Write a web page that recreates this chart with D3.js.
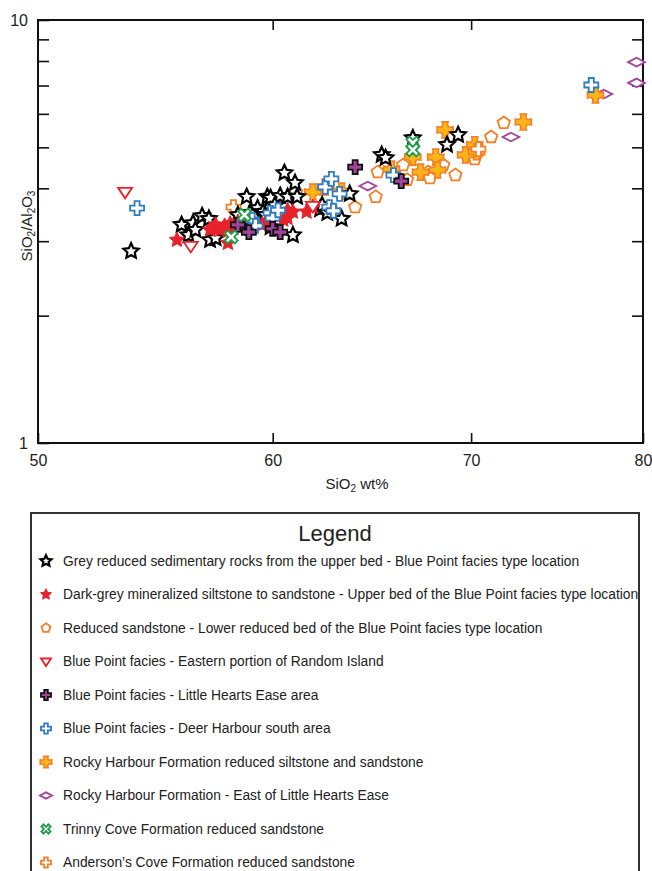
<!DOCTYPE html>
<html>
<head>
<meta charset="utf-8">
<script src="https://cdn.jsdelivr.net/npm/d3@7"></script>
<style>
  body { margin: 0; background: #fff; }
  svg { display: block; font-family: "Liberation Sans", Arial, sans-serif; }
  .axis path { display: none; }
  .axis line { stroke: #111; stroke-width: 1.6; }
</style>
</head>
<body>
<svg width="652" height="871"></svg>
<script>
// ---- data: [SiO2 wt%, SiO2/Al2O3] ----
var greyReduced = [
  [53.75, 2.84], [55.9, 3.28], [56.2, 3.10], [56.4, 3.31], [56.5, 3.19], [56.8, 3.44],
  [57.1, 3.39], [57.15, 3.02], [57.4, 3.05], [58.8, 3.82], [58.6, 3.31], [59.3, 3.59],
  [59.55, 3.52], [59.75, 3.82], [59.9, 3.80], [60.35, 3.84], [60.7, 3.82], [61.15, 3.82],
  [60.55, 4.35], [61.05, 4.12], [60.95, 3.10], [58.95, 3.50], [59.2, 3.40], [59.4, 3.33],
  [59.65, 3.46], [60.1, 3.65], [59.9, 3.24], [58.4, 3.46], [62.25, 3.57], [62.6, 3.50],
  [63.3, 3.39], [63.7, 3.88], [65.3, 4.80], [65.5, 4.72], [66.9, 5.26], [68.7, 5.07],
  [69.3, 5.35], [62.35, 3.65]
];
var darkGreyMineralized = [
  [55.7, 3.02], [57.95, 2.97], [57.3, 3.22], [57.4, 3.28], [57.6, 3.19], [57.8, 3.26],
  [58.05, 3.30], [58.2, 3.22], [58.4, 3.33], [57.95, 3.17], [57.15, 3.19], [59.5, 3.28],
  [60.5, 3.37], [60.7, 3.55], [60.7, 3.40], [60.95, 3.52], [61.6, 3.52], [61.9, 3.61],
  [59.65, 3.31], [60.0, 3.46]
];
var reducedSandstone = [
  [63.97, 3.61], [65.0, 3.82], [65.1, 4.37], [66.4, 4.54], [66.6, 4.19], [67.7, 4.37],
  [67.8, 4.23], [68.5, 4.54], [69.15, 4.30], [70.2, 4.69], [70.4, 4.90], [71.1, 5.29],
  [71.8, 5.71], [61.1, 3.92]
];
var bpEastern = [[53.5, 3.92], [56.3, 2.92], [61.9, 3.63]];
var bpLittleHearts = [[58.4, 3.28], [58.9, 3.15], [60.0, 3.21], [60.35, 3.15], [63.97, 4.49], [66.3, 4.16]];
var bpDeerHarbour = [
  [54.0, 3.59], [59.05, 3.37], [59.2, 3.26], [59.9, 3.50], [60.0, 3.40], [60.25, 3.55],
  [62.5, 4.03], [62.8, 4.21], [63.2, 3.88], [62.7, 3.61], [62.9, 3.54], [65.9, 4.30], [76.85, 7.02]
];
var rockySiltstone = [
  [61.9, 3.92], [62.5, 4.03], [63.3, 3.94], [65.8, 4.44], [66.9, 4.74], [67.3, 4.37],
  [68.1, 4.74], [68.2, 4.42], [68.6, 5.50], [69.7, 4.80], [70.2, 5.07], [70.3, 4.88],
  [72.9, 5.74], [77.1, 6.65]
];
var rockyEast = [[64.6, 4.05], [72.2, 5.29], [77.6, 6.68], [79.6, 7.95], [79.6, 7.10]];
var trinnyCove = [[58.1, 3.07], [58.7, 3.46], [66.9, 5.12], [66.9, 4.93]];
var andersonsCove = [[58.2, 3.61], [70.4, 4.95]];

var xTicks = [50, 60, 70, 80];
var yTicks = [1, 2, 3, 4, 5, 6, 7, 8, 9, 10];

// ---- custom marker shapes (size = radius in px) ----
function poly(ctx, pts) {
  ctx.moveTo(pts[0][0], pts[0][1]);
  for (var i = 1; i < pts.length; i++) ctx.lineTo(pts[i][0], pts[i][1]);
  ctx.closePath();
}
var star = { draw: function(ctx, r) {
  var pts = [];
  for (var i = 0; i < 10; i++) {
    var a = -Math.PI / 2 + i * Math.PI / 5, rr = i % 2 ? r * 0.48 : r;
    pts.push([rr * Math.cos(a), rr * Math.sin(a)]);
  }
  poly(ctx, pts);
}};
var pentagon = { draw: function(ctx, r) {
  var pts = [];
  for (var i = 0; i < 5; i++) {
    var a = -Math.PI / 2 + i * 2 * Math.PI / 5;
    pts.push([r * Math.cos(a), r * Math.sin(a)]);
  }
  poly(ctx, pts);
}};
var triDown = { draw: function(ctx, r) {
  poly(ctx, [[-r, -r * 0.6], [r, -r * 0.6], [0, r * 0.9]]);
}};
var cross = { draw: function(ctx, r) {
  var a = r * 0.36;
  poly(ctx, [[-a, -r], [a, -r], [a, -a], [r, -a], [r, a], [a, a], [a, r], [-a, r], [-a, a], [-r, a], [-r, -a], [-a, -a]]);
}};
var sparkle = { draw: function(ctx, r) {
  var a = r * 0.38, c = r * 0.12;
  ctx.moveTo(-a, -r); ctx.lineTo(a, -r);
  ctx.quadraticCurveTo(c, -c, r, -a); ctx.lineTo(r, a);
  ctx.quadraticCurveTo(c, c, a, r); ctx.lineTo(-a, r);
  ctx.quadraticCurveTo(-c, c, -r, a); ctx.lineTo(-r, -a);
  ctx.quadraticCurveTo(-c, -c, -a, -r);
  ctx.closePath();
}};
var wideDiamond = { draw: function(ctx, r) {
  poly(ctx, [[-r * 1.2, 0], [0, -r * 0.62], [r * 1.2, 0], [0, r * 0.62]]);
}};
var xMark = { draw: function(ctx, r) {
  var a = r * 0.3, s = Math.SQRT1_2;
  var base = [[-a, -r], [a, -r], [a, -a], [r, -a], [r, a], [a, a], [a, r], [-a, r], [-a, a], [-r, a], [-r, -a], [-a, -a]];
  poly(ctx, base.map(function(p) { return [(p[0] - p[1]) * s, (p[0] + p[1]) * s]; }));
}};

var series = [
  { name: "Rocky Harbour Formation - East of Little Hearts Ease", data: rockyEast, type: wideDiamond, size: 7, fill: "#fff", stroke: "#a3449c", sw: 1.8, order: 8 },
  { name: "Reduced sandstone - Lower reduced bed of the Blue Point facies type location", data: reducedSandstone, type: pentagon, size: 6.5, fill: "#fff", stroke: "#f47f26", sw: 1.8, order: 3 },
  { name: "Rocky Harbour Formation reduced siltstone and sandstone", data: rockySiltstone, type: sparkle, size: 8, fill: "#fdb515", stroke: "#f47f26", sw: 1.6, order: 7 },
  { name: "Anderson\u2019s Cove Formation reduced sandstone", data: andersonsCove, type: cross, size: 7, fill: "#fff", stroke: "#f47f26", sw: 1.8, order: 10 },
  { name: "Grey reduced sedimentary rocks from the upper bed - Blue Point facies type location", data: greyReduced, type: star, size: 8, fill: "#fff", stroke: "#000", sw: 2.2, order: 1 },
  { name: "Dark-grey mineralized siltstone to sandstone - Upper bed of the Blue Point facies type location", data: darkGreyMineralized, type: star, size: 8, fill: "#e8212b", stroke: "#e8212b", sw: 1, order: 2 },
  { name: "Blue Point facies - Eastern portion of Random Island", data: bpEastern, type: triDown, size: 7, fill: "#fff", stroke: "#e8212b", sw: 1.8, order: 4 },
  { name: "Blue Point facies - Deer Harbour south area", data: bpDeerHarbour, type: cross, size: 7, fill: "#fff", stroke: "#2f7cc3", sw: 1.8, order: 6 },
  { name: "Blue Point facies - Little Hearts Ease area", data: bpLittleHearts, type: cross, size: 7, fill: "#a3449c", stroke: "#111", sw: 1.8, order: 5 },
  { name: "Trinny Cove Formation reduced sandstone", data: trinnyCove, type: xMark, size: 7, fill: "#fff", stroke: "#1f9e4a", sw: 1.8, order: 9 }
];

var svg = d3.select("svg");
var margin = { left: 38, top: 20, right: 643, bottom: 443 };

var x = d3.scaleLog().domain([50, 80]).range([margin.left, margin.right]);
var y = d3.scaleLog().domain([1, 10]).range([margin.bottom, margin.top]);

// frame
svg.append("rect")
  .attr("x", margin.left).attr("y", margin.top)
  .attr("width", margin.right - margin.left).attr("height", margin.bottom - margin.top)
  .attr("fill", "none").attr("stroke", "#111").attr("stroke-width", 2);

// axes (ticks inward)
svg.append("g").attr("class", "axis")
  .attr("transform", "translate(" + margin.left + ",0)")
  .call(d3.axisLeft(y).tickValues(yTicks).tickSize(-11).tickPadding(10)
    .tickFormat(function(d) { return (d === 1 || d === 10) ? d : ""; }))
  .attr("font-size", 16).attr("font-family", null);
svg.append("g").attr("class", "axis")
  .attr("transform", "translate(" + margin.right + ",0)")
  .call(d3.axisRight(y).tickValues(yTicks.slice(1, -1)).tickSize(-11).tickFormat(""));
svg.append("g").attr("class", "axis")
  .attr("transform", "translate(0," + margin.bottom + ")")
  .call(d3.axisBottom(x).tickValues(xTicks).tickSize(-10).tickPadding(12).tickFormat(d3.format("d")))
  .attr("font-size", 16).attr("font-family", null);
svg.append("g").attr("class", "axis")
  .attr("transform", "translate(0," + margin.top + ")")
  .call(d3.axisTop(x).tickValues(xTicks.slice(1, -1)).tickSize(-10).tickFormat(""));
svg.selectAll(".axis text").attr("fill", "#222");

// axis titles
var xt = svg.append("text").attr("x", 357).attr("y", 489).attr("text-anchor", "middle")
  .attr("font-size", 15).attr("fill", "#222");
xt.append("tspan").text("SiO");
xt.append("tspan").text("2").attr("font-size", 10).attr("dy", 3);
xt.append("tspan").text(" wt%").attr("dy", -3);

var yt = svg.append("text").attr("transform", "translate(32,226) rotate(-90)")
  .attr("text-anchor", "middle").attr("font-size", 15).attr("fill", "#222");
yt.append("tspan").text("SiO");
yt.append("tspan").text("2").attr("font-size", 10).attr("dy", 3);
yt.append("tspan").text("/Al").attr("dy", -3);
yt.append("tspan").text("2").attr("font-size", 10).attr("dy", 3);
yt.append("tspan").text("O").attr("dy", -3);
yt.append("tspan").text("3").attr("font-size", 10).attr("dy", 3);

// points
var sym = d3.symbol();
series.forEach(function(s) {
  svg.append("g").selectAll("path")
    .data(s.data).enter().append("path")
    .attr("d", sym.type(s.type).size(s.size)())
    .attr("transform", function(d) { return "translate(" + x(d[0]) + "," + y(d[1]) + ")"; })
    .attr("fill", s.fill).attr("stroke", s.stroke).attr("stroke-width", s.sw)
    .attr("stroke-linejoin", "miter");
});

// legend
var legend = svg.append("g");
legend.append("rect").attr("x", 31).attr("y", 513).attr("width", 608).attr("height", 380)
  .attr("fill", "#fff").attr("stroke", "#333").attr("stroke-width", 2);
legend.append("text").attr("x", 335).attr("y", 541).attr("text-anchor", "middle")
  .attr("font-size", 22).attr("fill", "#222").text("Legend");

var items = series.slice().sort(function(a, b) { return a.order - b.order; });
var row = legend.selectAll("g.item").data(items).enter().append("g")
  .attr("class", "item")
  .attr("transform", function(d, i) { return "translate(0," + (561 + i * 33.5) + ")"; });
row.append("path")
  .attr("d", function(d) { return d3.symbol().type(d.type).size(d.size * 0.72)(); })
  .attr("transform", "translate(46,0)")
  .attr("fill", function(d) { return d.fill; })
  .attr("stroke", function(d) { return d.stroke; })
  .attr("stroke-width", function(d) { return d.sw; });
row.append("text").attr("x", 63).attr("dy", "0.35em")
  .attr("font-size", 13.8).attr("fill", "#222")
  .text(function(d) { return d.name; });
</script>
</body>
</html>
